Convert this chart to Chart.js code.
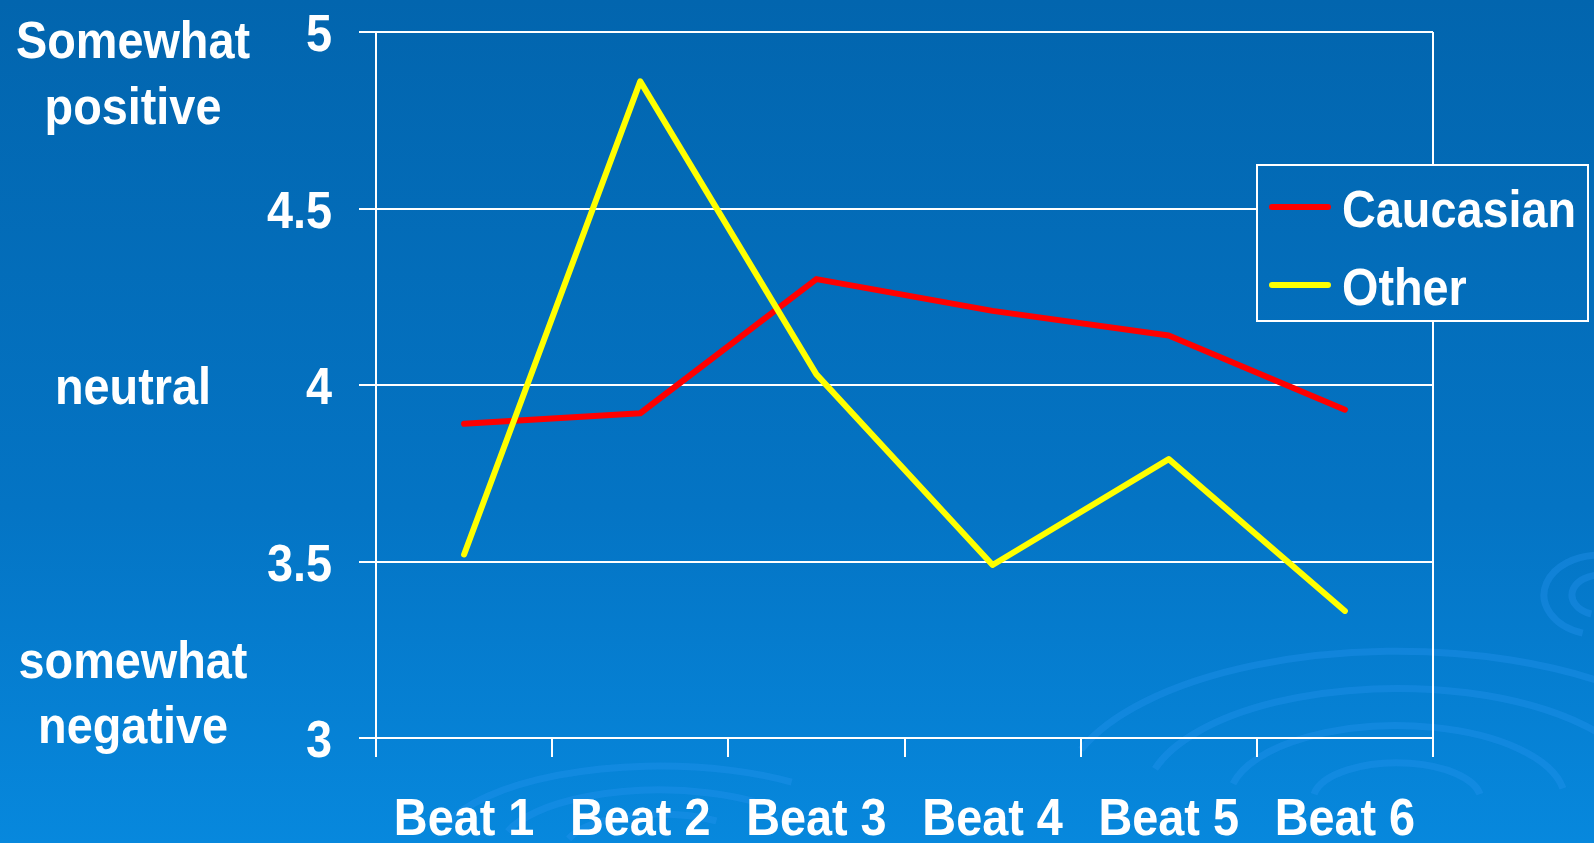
<!DOCTYPE html>
<html>
<head>
<meta charset="utf-8">
<script src="https://cdn.jsdelivr.net/npm/chart.js@4/dist/chart.umd.min.js"></script>
<style>
  html, body { margin: 0; padding: 0; background: #0570c0; }
  #wrap { width: 1594px; height: 843px; }
</style>
</head>
<body>
<div id="wrap"><canvas id="beatChart" width="1594" height="843"></canvas></div>
<script>
const beats = ['Beat 1', 'Beat 2', 'Beat 3', 'Beat 4', 'Beat 5', 'Beat 6'];
const caucasian = [3.89, 3.92, 4.30, 4.21, 4.14, 3.93];
const other = [3.52, 4.86, 4.03, 3.49, 3.79, 3.36];
const seriesNames = ['Caucasian', 'Other'];
const seriesColors = ['#ff0000', '#ffff00'];

const FONT = 'bold 52px "Liberation Sans", Arial, sans-serif';
const SQUEEZE = 0.9; // the slide uses a narrow bold face

function bgGradient(ctx, h) {
    const g = ctx.createLinearGradient(0, 0, 0, h);
    g.addColorStop(0, '#0265ae');
    g.addColorStop(0.6, '#0474c4');
    g.addColorStop(1, '#0788dd');
    return g;
}

// text squeezed horizontally, y is the baseline
function narrowText(ctx, text, x, y, align) {
    ctx.save();
    ctx.translate(x, y);
    ctx.scale(SQUEEZE, 1);
    ctx.font = FONT;
    ctx.fillStyle = '#ffffff';
    ctx.textAlign = align;
    ctx.textBaseline = 'alphabetic';
    ctx.fillText(text, 0, 0);
    ctx.restore();
}

// Background with faint ripples
const backdrop = {
    id: 'backdrop',
    beforeDraw(chart) {
        const { ctx, width, height } = chart;
        ctx.save();
        ctx.fillStyle = bgGradient(ctx, height);
        ctx.fillRect(0, 0, width, height);
        ctx.strokeStyle = 'rgba(40,150,240,0.35)';
        ctx.lineWidth = 7;
        [60, 120, 180, 240].forEach((r, i) => {
            ctx.beginPath();
            ctx.ellipse(1397, 800, r * 1.4, r * 0.62, 0, Math.PI * (1.05 + i * 0.02), Math.PI * 1.95);
            ctx.stroke();
        });
        [60, 100, 140].forEach(r => {
            ctx.beginPath();
            ctx.ellipse(660, 850, r * 1.6, r * 0.6, 0, Math.PI * 1.1, Math.PI * 1.7);
            ctx.stroke();
        });
        [20, 40].forEach(r => {
            ctx.beginPath();
            ctx.ellipse(1600, 595, r * 1.4, r, 0, Math.PI * 0.6, Math.PI * 1.5);
            ctx.stroke();
        });
        ctx.restore();
    }
};

// Tick labels, side captions, right frame line and legend box
const decorations = {
    id: 'decorations',
    afterDatasetsDraw(chart) {
        const { ctx, chartArea, scales } = chart;
        const x = scales.x, y = scales.y;
        ctx.save();
        ctx.strokeStyle = '#ffffff';
        ctx.lineWidth = 2;
        ctx.beginPath();
        ctx.moveTo(chartArea.right, chartArea.top);
        ctx.lineTo(chartArea.right, chartArea.bottom);
        ctx.stroke();

        y.ticks.forEach(t => {
            narrowText(ctx, String(t.value), y.right - 44, y.getPixelForValue(t.value) + 19, 'right');
        });
        x.ticks.forEach((t, i) => {
            narrowText(ctx, chart.data.labels[i], x.getPixelForTick(i), 835, 'center');
        });

        const cx = 133;
        narrowText(ctx, 'Somewhat', cx, y.top + 26, 'center');
        narrowText(ctx, 'positive', cx, y.top + 92, 'center');
        narrowText(ctx, 'neutral', cx, y.getPixelForValue(4) + 19, 'center');
        narrowText(ctx, 'somewhat', cx, y.bottom - 60, 'center');
        narrowText(ctx, 'negative', cx, y.bottom + 5, 'center');

        // legend
        const bx = 1257, by = 165, bw = 331, bh = 156;
        ctx.fillStyle = bgGradient(ctx, chart.height);
        ctx.fillRect(bx, by, bw, bh);
        ctx.strokeRect(bx, by, bw, bh);
        seriesNames.forEach((name, i) => {
            const ly = 207 + i * 78;
            ctx.strokeStyle = seriesColors[i];
            ctx.lineWidth = 6;
            ctx.lineCap = 'round';
            ctx.beginPath();
            ctx.moveTo(1272, ly);
            ctx.lineTo(1328, ly);
            ctx.stroke();
            narrowText(ctx, name, 1342, ly + 20, 'left');
        });
        ctx.restore();
    }
};

const ctx = document.getElementById('beatChart').getContext('2d');
new Chart(ctx, {
    type: 'line',
    data: {
        labels: beats,
        datasets: [
            { label: seriesNames[0], data: caucasian, borderColor: seriesColors[0], borderWidth: 6, order: 1 },
            { label: seriesNames[1], data: other, borderColor: seriesColors[1], borderWidth: 6, order: 0 }
        ]
    },
    options: {
        responsive: false,
        animation: false,
        layout: { padding: { left: 0, right: 161, top: 32, bottom: 0 } },
        elements: {
            line: { tension: 0, borderCapStyle: 'round', borderJoinStyle: 'round' },
            point: { radius: 0 }
        },
        plugins: { legend: { display: false }, tooltip: { enabled: false } },
        scales: {
            x: {
                offset: true,
                grid: { offset: true, drawOnChartArea: false, color: '#ffffff', lineWidth: 2, tickLength: 19 },
                border: { color: '#ffffff', width: 2 },
                ticks: { display: false },
                afterFit(scale) { scale.height = 105; }
            },
            y: {
                min: 3,
                max: 5,
                ticks: { stepSize: 0.5, display: false },
                grid: { color: '#ffffff', lineWidth: 2, tickLength: 17 },
                border: { color: '#ffffff', width: 2 },
                afterFit(scale) { scale.width = 376; }
            }
        }
    },
    plugins: [backdrop, decorations]
});
</script>
</body>
</html>
